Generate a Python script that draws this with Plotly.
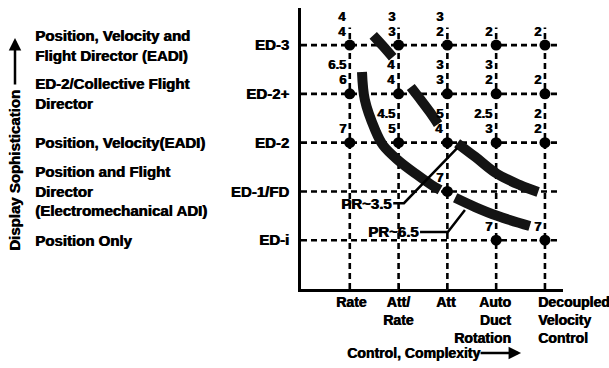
import plotly.graph_objects as go

# ---- data -----------------------------------------------------------------
control_types = ["Rate", "Att/<br>Rate", "Att", "Auto<br>Duct<br>Rotation",
                 "Decoupled<br>Velocity<br>Control"]
display_levels = ["ED-i", "ED-1/FD", "ED-2", "ED-2+", "ED-3"]
level_descriptions = [
    "Position Only",
    "Position and Flight<br>Director<br>(Electromechanical ADI)",
    "Position, Velocity(EADI)",
    "ED-2/Collective Flight<br>Director",
    "Position, Velocity and<br>Flight Director (EADI)",
]

# pilot ratings, rows = display level (ED-i .. ED-3), cols = control type
ratings_lower = [
    [None, None, None, 7, 7],
    [None, None, 7, None, None],
    [7, 5, 4, 3, 2],
    [6, 4, 3, 2, 2],
    [4, 3, 2, 2, 2],
]
ratings_upper = [
    [None, None, None, None, None],
    [None, None, None, None, None],
    [None, 4.5, 5, 2.5, 2],
    [6.5, 4, 3, 3, None],
    [4, 3, 3, None, None],
]

# iso-rating boundaries (control index, display index)
pr35_x = [[1.48, 1.68, 1.88],
          [2.25, 2.46, 2.64, 2.81],
          [3.20, 3.57, 4.02, 4.49, 4.86]]
pr35_y = [[5.20, 4.98, 4.75],
          [4.14, 3.87, 3.63, 3.38],
          [2.99, 2.71, 2.36, 2.13, 1.99]]
pr65_x = [[1.25, 1.31, 1.52, 1.68, 1.99, 2.38, 2.68, 2.85],
          [3.16, 3.57, 4.02, 4.69]]
pr65_y = [[4.45, 3.87, 3.26, 2.95, 2.64, 2.34, 2.13, 2.03],
          [1.87, 1.68, 1.50, 1.29]]

# callout leaders for the boundary labels
pr35_label = "PR~3.5"
pr35_leader_x = [1.89, 2.11, 3.20]
pr35_leader_y = [1.76, 1.76, 2.89]
pr65_label = "PR~6.5"
pr65_leader_x = [2.44, 3.01, 3.36]
pr65_leader_y = [1.17, 1.17, 1.62]

# ---- styling --------------------------------------------------------------
FONT = "Liberation Sans"
INK = "black"
HEAVY = "0.7px 0px 0px black"   # thickens the strokes of the bold lettering
X_MAX, Y_MAX = 5.37, 5.76
GRID_X_END, GRID_Y_END = 5.27, 5.36
col_pos = list(range(1, len(control_types) + 1))
lev_pos = list(range(1, len(display_levels) + 1))


def lettering(size):
    return dict(family=FONT, size=size, color=INK, weight="bold", shadow=HEAVY)


fig = go.Figure()
dash = dict(color=INK, width=2.6, dash="6px,4px")

for yv in lev_pos:
    fig.add_trace(go.Scatter(x=[0, GRID_X_END], y=[yv, yv], mode="lines",
                             line=dash, hoverinfo="skip"))
for xv in col_pos:
    fig.add_trace(go.Scatter(x=[xv, xv], y=[0, GRID_Y_END], mode="lines",
                             line=dash, hoverinfo="skip"))

# boundary bands
for xs, ys in zip(pr35_x + pr65_x, pr35_y + pr65_y):
    fig.add_trace(go.Scatter(x=xs, y=ys, mode="lines",
                             line=dict(color="#141414", width=10, shape="spline"),
                             hoverinfo="skip"))

# leaders
for xs, ys in [(pr35_leader_x, pr35_leader_y), (pr65_leader_x, pr65_leader_y)]:
    fig.add_trace(go.Scatter(x=xs, y=ys, mode="lines",
                             line=dict(color=INK, width=2.5), hoverinfo="skip"))

# rated configurations
px, py = [], []
for r, row in enumerate(ratings_lower):
    for c, v in enumerate(row):
        if v is not None:
            px.append(col_pos[c])
            py.append(lev_pos[r])
fig.add_trace(go.Scatter(x=px, y=py, mode="markers",
                         marker=dict(color=INK, size=11), hoverinfo="skip"))

annotations = []
for table, lift in [(ratings_lower, 14), (ratings_upper, 29)]:
    for r, row in enumerate(table):
        for c, v in enumerate(row):
            if v is None:
                continue
            annotations.append(dict(x=col_pos[c], y=lev_pos[r], text=f"{v:g}",
                                    xanchor="right", yanchor="middle",
                                    xshift=-2, yshift=lift, showarrow=False,
                                    font=lettering(13)))

annotations.append(dict(x=pr35_leader_x[0], y=pr35_leader_y[0], text=pr35_label,
                        xanchor="right", yanchor="middle", showarrow=False,
                        font=lettering(15)))
annotations.append(dict(x=pr65_leader_x[0], y=pr65_leader_y[0], text=pr65_label,
                        xanchor="right", yanchor="middle", showarrow=False,
                        font=lettering(15)))

# descriptions of the display levels
for yv, txt in zip(lev_pos, level_descriptions):
    annotations.append(dict(x=-1.023, xref="paper", y=yv, yref="y", text=txt,
                            xanchor="left", yanchor="middle", align="left",
                            showarrow=False, font=lettering(15)))

# control-type labels below the axis
label_place = [("center", 2, "center"), ("center", 0, "center"),
               ("center", -1, "center"), ("right", 17, "right"),
               ("left", -9, "left")]
for xv, txt, (anc, shift, al) in zip(col_pos, control_types, label_place):
    annotations.append(dict(x=xv, xref="x", y=0, yref="paper", text=txt,
                            xanchor=anc, yanchor="top", align=al, xshift=shift,
                            yshift=-3, showarrow=False, font=lettering(14)))

# axis titles with arrows
annotations.append(dict(x=0.168, xref="paper", y=-0.228, yref="paper",
                        text="Control, Complexity", xanchor="left",
                        yanchor="middle", showarrow=False, font=lettering(14)))
annotations.append(dict(x=0.84, xref="paper", y=-0.228, yref="paper", text="",
                        showarrow=True, ax=-42, ay=0, arrowhead=2, arrowsize=1,
                        arrowwidth=2.5, arrowcolor=INK))
annotations.append(dict(x=-1.0916, xref="paper", y=0.42, yref="paper",
                        text="Display Sophistication", textangle=-90,
                        xanchor="center", yanchor="middle", showarrow=False,
                        font=lettering(15)))
annotations.append(dict(x=-1.0916, xref="paper", y=0.893, yref="paper", text="",
                        showarrow=True, ax=0, ay=48, arrowhead=2, arrowsize=1,
                        arrowwidth=2.5, arrowcolor=INK))

fig.update_layout(
    width=609, height=368,
    margin=dict(l=301, r=46, t=8, b=79),
    paper_bgcolor="white", plot_bgcolor="white",
    showlegend=False,
    annotations=annotations,
    xaxis=dict(range=[0, X_MAX], tickvals=col_pos, ticktext=[""] * len(col_pos),
               showgrid=False, zeroline=False, showline=True, linecolor=INK,
               linewidth=3, ticks="inside", ticklen=5, tickwidth=2,
               tickcolor=INK, fixedrange=True),
    yaxis=dict(range=[0, Y_MAX], tickvals=lev_pos, ticktext=display_levels,
               showgrid=False, zeroline=False, showline=True, linecolor=INK,
               linewidth=3, ticks="", ticklabelstandoff=6,
               tickfont=lettering(15), fixedrange=True),
)

fig.write_html("out.html")
